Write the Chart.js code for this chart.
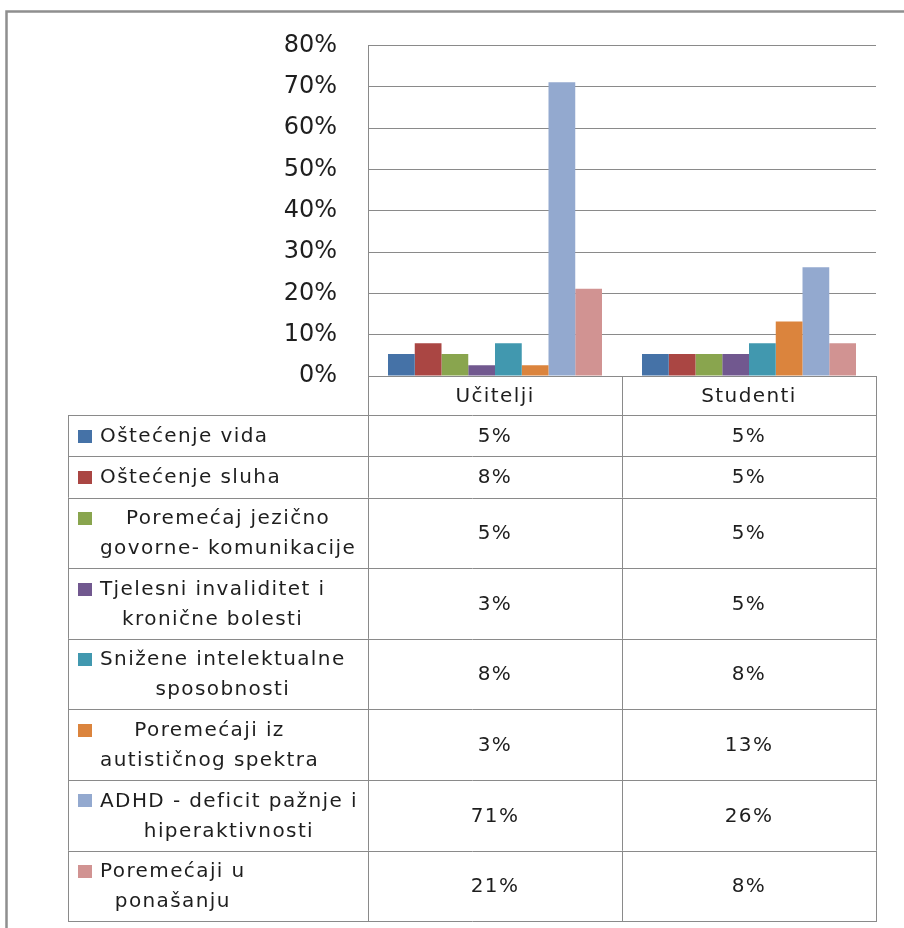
<!DOCTYPE html>
<html>
<head>
<meta charset="utf-8">
<script src="https://cdn.jsdelivr.net/npm/chart.js@4"></script>
<style>
  body { margin: 0; background: #fff; }
  #wrap { width: 904px; height: 928px; }
</style>
</head>
<body>
<div id="wrap"><canvas id="chart"></canvas></div>
<script>
// groups on the x axis
const categories = ["Učitelji", "Studenti"];

// series names, split into the lines they wrap to in the data table
const seriesNames = [
    ["Oštećenje vida"],
    ["Oštećenje sluha"],
    ["Poremećaj jezično", "govorne- komunikacije"],
    ["Tjelesni invaliditet i", "kronične bolesti"],
    ["Snižene intelektualne", "sposobnosti"],
    ["Poremećaji iz", "autističnog spektra"],
    ["ADHD - deficit pažnje i", "hiperaktivnosti"],
    ["Poremećaji u", "ponašanju"]
];

// percent values per series: [Učitelji, Studenti]
const ostecenjeVida = [5.3, 5.3];
const ostecenjeSluha = [7.9, 5.3];
const jezicnoGovorne = [5.3, 5.3];
const tjelesniInvaliditet = [2.6, 5.3];
const snizeneIntelektualne = [7.9, 7.9];
const autisticniSpektar = [2.6, 13.2];
const adhd = [71.1, 26.3];
const ponasanje = [21.1, 7.9];

const seriesValues = [ostecenjeVida, ostecenjeSluha, jezicnoGovorne, tjelesniInvaliditet,
    snizeneIntelektualne, autisticniSpektar, adhd, ponasanje];

const seriesColors = ["#4572A7", "#AA4643", "#89A54E", "#71588F", "#4198AF", "#DB843D", "#93A9CF", "#D19392"];

// y axis ticks
const yTicks = [0, 10, 20, 30, 40, 50, 60, 70, 80];

const lineColor = "#8a8a8a";
const textColor = "#1e1e1e";
const tableFont = "20px 'DejaVu Sans'";

// Excel style data table under the plot
const dataTable = {
    id: "dataTable",
    afterDraw(chart) {
        const ctx = chart.ctx;
        const area = chart.chartArea;
        const x = chart.scales.x;
        const colLeft = area.left;
        const colMid = (x.getPixelForValue(0) + x.getPixelForValue(1)) / 2;
        const colRight = area.right;
        const labelLeft = 68;

        ctx.save();

        // outer frame (only top and left edges fall inside the picture)
        ctx.strokeStyle = "#8f8f8f";
        ctx.lineWidth = 2.5;
        ctx.beginPath();
        ctx.moveTo(930, 11.5);
        ctx.lineTo(6.5, 11.5);
        ctx.lineTo(6.5, 940);
        ctx.stroke();

        ctx.strokeStyle = lineColor;
        ctx.lineWidth = 1;
        ctx.font = tableFont;
        ctx.letterSpacing = "1.4px";
        ctx.fillStyle = textColor;
        ctx.textBaseline = "middle";
        ctx.textAlign = "center";

        // header row with category names
        const headTop = area.bottom;
        const headBottom = headTop + 39;
        ctx.beginPath();
        ctx.moveTo(colLeft + 0.5, headTop);
        ctx.lineTo(colLeft + 0.5, headBottom);
        ctx.moveTo(colMid + 0.5, headTop);
        ctx.lineTo(colMid + 0.5, headBottom);
        ctx.moveTo(colRight + 0.5, headTop);
        ctx.lineTo(colRight + 0.5, headBottom);
        ctx.moveTo(colLeft, headTop + 0.5);
        ctx.lineTo(colRight + 1, headTop + 0.5);
        ctx.stroke();
        categories.forEach((c, i) => {
            const cx = i === 0 ? (colLeft + colMid) / 2 : (colMid + colRight) / 2;
            ctx.fillText(c, cx, (headTop + headBottom) / 2 + 1);
        });

        // series rows
        let top = headBottom;
        const lineH = 30;
        seriesNames.forEach((lines, i) => {
            const h = 12 + 29.3 * lines.length;
            const bottom = top + h;
            const mid = (top + bottom) / 2;

            ctx.beginPath();
            ctx.moveTo(labelLeft, Math.round(top) + 0.5);
            ctx.lineTo(colRight + 1, Math.round(top) + 0.5);
            ctx.moveTo(labelLeft + 0.5, top);
            ctx.lineTo(labelLeft + 0.5, bottom);
            ctx.moveTo(colLeft + 0.5, top);
            ctx.lineTo(colLeft + 0.5, bottom);
            ctx.moveTo(colMid + 0.5, top);
            ctx.lineTo(colMid + 0.5, bottom);
            ctx.moveTo(colRight + 0.5, top);
            ctx.lineTo(colRight + 0.5, bottom);
            ctx.stroke();

            const firstY = mid - (lines.length - 1) * lineH / 2;

            // legend key
            ctx.fillStyle = seriesColors[i];
            ctx.fillRect(78, Math.round(firstY) - 6, 14, 13);

            // label lines, centred inside a block that starts at x = 100
            ctx.fillStyle = textColor;
            const widths = lines.map(l => ctx.measureText(l).width);
            const blockW = Math.max(...widths);
            lines.forEach((l, k) => {
                ctx.fillText(l, 100 + blockW / 2, firstY + k * lineH + 1);
            });

            // values
            seriesValues[i].forEach((v, j) => {
                const cx = j === 0 ? (colLeft + colMid) / 2 : (colMid + colRight) / 2;
                ctx.fillText(Math.round(v) + "%", cx, mid + 1);
            });

            top = bottom;
        });

        ctx.beginPath();
        ctx.moveTo(labelLeft, Math.round(top) + 0.5);
        ctx.lineTo(colRight + 1, Math.round(top) + 0.5);
        ctx.stroke();

        ctx.restore();
    }
};

new Chart(document.getElementById("chart"), {
    type: "bar",
    data: {
        labels: categories,
        datasets: seriesNames.map((n, i) => ({
            label: n.join(" "),
            data: seriesValues[i],
            backgroundColor: seriesColors[i],
            borderWidth: 0,
            categoryPercentage: 214 / 254,
            barPercentage: 1
        }))
    },
    options: {
        responsive: true,
        maintainAspectRatio: false,
        animation: false,
        layout: { padding: { top: 45, right: 28, bottom: 552, left: 0 } },
        plugins: {
            legend: { display: false },
            tooltip: { enabled: false }
        },
        scales: {
            x: { display: false },
            y: {
                min: 0,
                max: 80,
                afterFit(scale) { scale.width = 368; },
                afterBuildTicks(scale) { scale.ticks = yTicks.map(v => ({ value: v })); },
                grid: { color: lineColor, drawTicks: false },
                border: { color: lineColor },
                ticks: {
                    padding: 31,
                    color: textColor,
                    font: { family: "DejaVu Sans", size: 24 },
                    callback: v => v + "%"
                }
            }
        }
    },
    plugins: [dataTable]
});
</script>
</body>
</html>
